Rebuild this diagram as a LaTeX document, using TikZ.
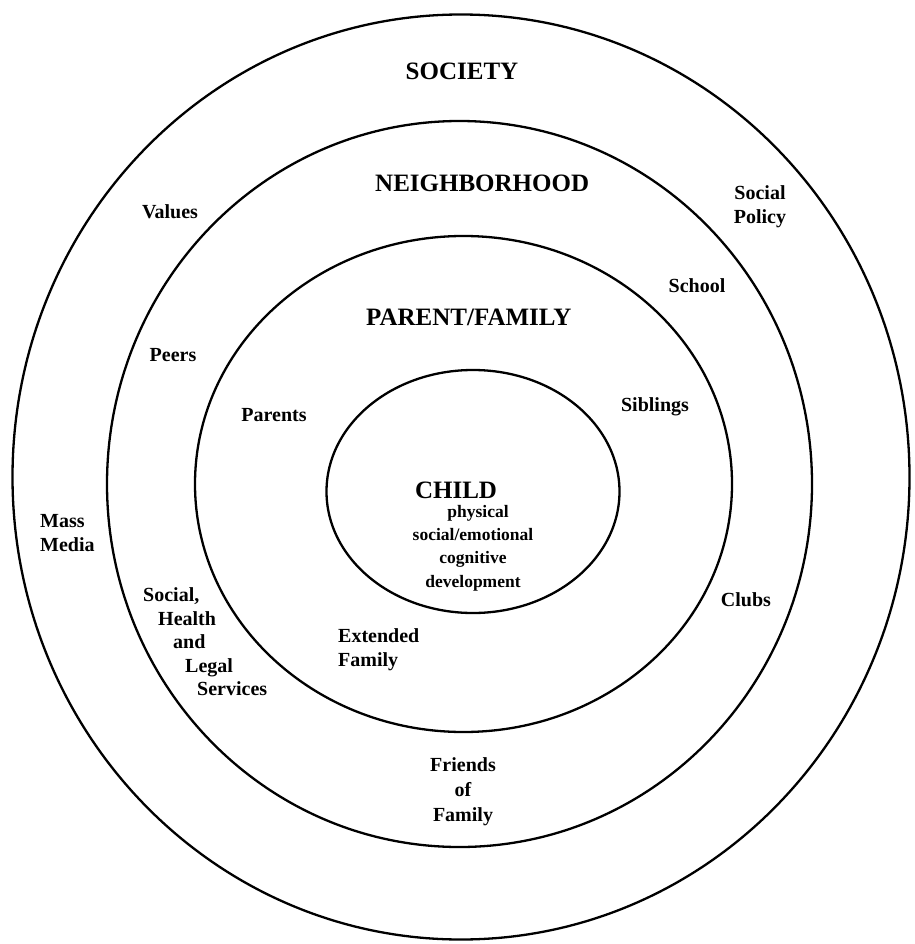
\documentclass[tikz,border=0pt]{standalone}
\usepackage{fontspec}
\setmainfont{Liberation Serif}
\begin{document}
\begin{tikzpicture}[x=1pt,y=-1pt,
  ring/.style={line width=2.3pt},
  head/.style={font=\fontsize{25}{28}\selectfont\bfseries, inner sep=0pt},
  lab/.style={font=\fontsize{20}{24}\selectfont\bfseries, align=center, inner sep=0pt},
  dev/.style={font=\fontsize{17.5}{23.3}\selectfont\bfseries, align=center, inner sep=0pt}]
\useasboundingbox (0,0) rectangle (914,944);

% the four nested spheres of influence
\draw[ring] (461,477) ellipse [x radius=448.5pt, y radius=462.5pt];
\draw[ring] (459.5,484) ellipse [x radius=352.5pt, y radius=363pt];
\draw[ring] (463.5,484) ellipse [x radius=268.5pt, y radius=248pt];
\draw[ring] (473,491.5) ellipse [x radius=146.5pt, y radius=121.5pt];

% ring titles
\node[head] (society) at (462,71) {SOCIETY};
\node[head, anchor=west] (hood) at (375,183) {NEIGHBORHOOD};
\node[head, anchor=west] (family) at (366,317) {PARENT/FAMILY};
\node[head] (child) at (456,490) {CHILD};
\node[dev] (develop) at (473,548) {\hspace*{10pt}physical\\social/emotional\\cognitive\\development};

% society ring
\node[lab] (values) at (170,212) {Values};
\node[lab] (policy) at (760,207) {Social\\Policy};
\node[lab, align=left, anchor=west] (media) at (40,533) {Mass\\Media};

% neighborhood ring
\node[lab] (school) at (697,286) {School};
\node[lab] (peers) at (173,355) {Peers};
\node[lab] (clubs) at (746,600) {Clubs};
\node[lab, font=\fontsize{20}{25}\selectfont\bfseries] (friends) at (463,792) {Friends\\of\\Family};
\node[lab, font=\fontsize{20}{23.5}\selectfont\bfseries, align=left, anchor=west] (services) at (143,642)
  {Social,\\\hspace*{15pt}Health\\\hspace*{30pt}and\\\hspace*{42pt}Legal\\\hspace*{54pt}Services};

% parent/family ring
\node[lab] (parents) at (274,415) {Parents};
\node[lab] (siblings) at (655,407) {Siblings};
\node[lab, align=left, anchor=west] (extended) at (338,650) {Extended\\Family};
\end{tikzpicture}
\end{document}
